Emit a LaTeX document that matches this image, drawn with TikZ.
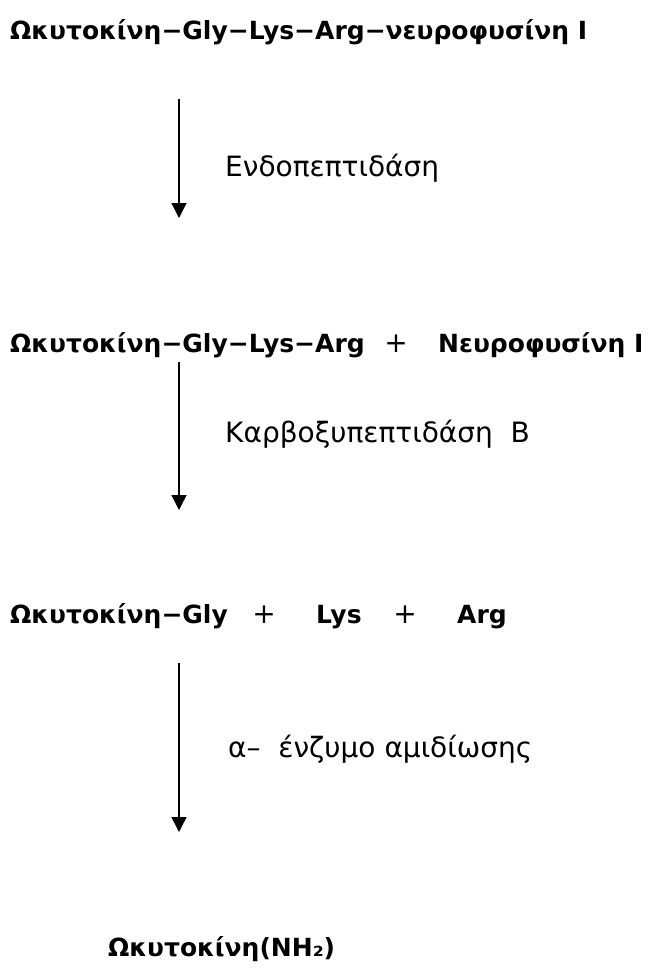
\documentclass[tikz,border=0pt]{standalone}
\usepackage{fontspec}
\setmainfont{DejaVu Sans}
\usetikzlibrary{arrows.meta}
\tikzset{
  main/.style={anchor=base west, inner sep=0pt, font=\fontsize{25}{30}\selectfont\bfseries},
  plus/.style={anchor=base, inner sep=0pt, font=\fontsize{28}{30}\selectfont},
  enz/.style={anchor=base west, inner sep=0pt, font=\fontsize{28}{32}\selectfont},
  rxn/.style={line width=1.4pt, -{Triangle[width=15pt,length=15pt]}}
}
\begin{document}
\begin{tikzpicture}[x=1pt,y=-1pt]
\useasboundingbox (0,0) rectangle (652,970);
\node[main] (l1) at (10,39) {Ωκυτοκίνη−Gly−Lys−Arg−νευροφυσίνη Ι};
\coordinate (a1s) at (179,99);
\coordinate (a1e) at (179,218);
\draw[rxn] (a1s) -- (a1e);
\node[enz] (e1) at (225,176) {Ενδοπεπτιδάση};

\node[main] (l2a) at (10,352) {Ωκυτοκίνη−Gly−Lys−Arg};
\node[plus] (l2p) at (396,352) {+};
\node[main] (l2b) at (438,352) {Νευροφυσίνη Ι};
\coordinate (a2s) at (179,362);
\coordinate (a2e) at (179,510);
\draw[rxn] (a2s) -- (a2e);
\node[enz] (e2) at (225,442) {Καρβοξυπεπτιδάση\ \ Β};

\node[main] (l3a) at (10,623) {Ωκυτοκίνη−Gly};
\node[plus] (l3p1) at (264,623) {+};
\node[main] (l3b) at (316,623) {Lys};
\node[plus] (l3p2) at (405,623) {+};
\node[main] (l3c) at (457,623) {Arg};
\coordinate (a3s) at (179,663);
\coordinate (a3e) at (179,832);
\draw[rxn] (a3s) -- (a3e);
\node[enz] (e3) at (228,757) {α–\ \ ένζυμο αμιδίωσης};

\node[main] (l4) at (108,956) {Ωκυτοκίνη(NH₂)};
\end{tikzpicture}
\end{document}
